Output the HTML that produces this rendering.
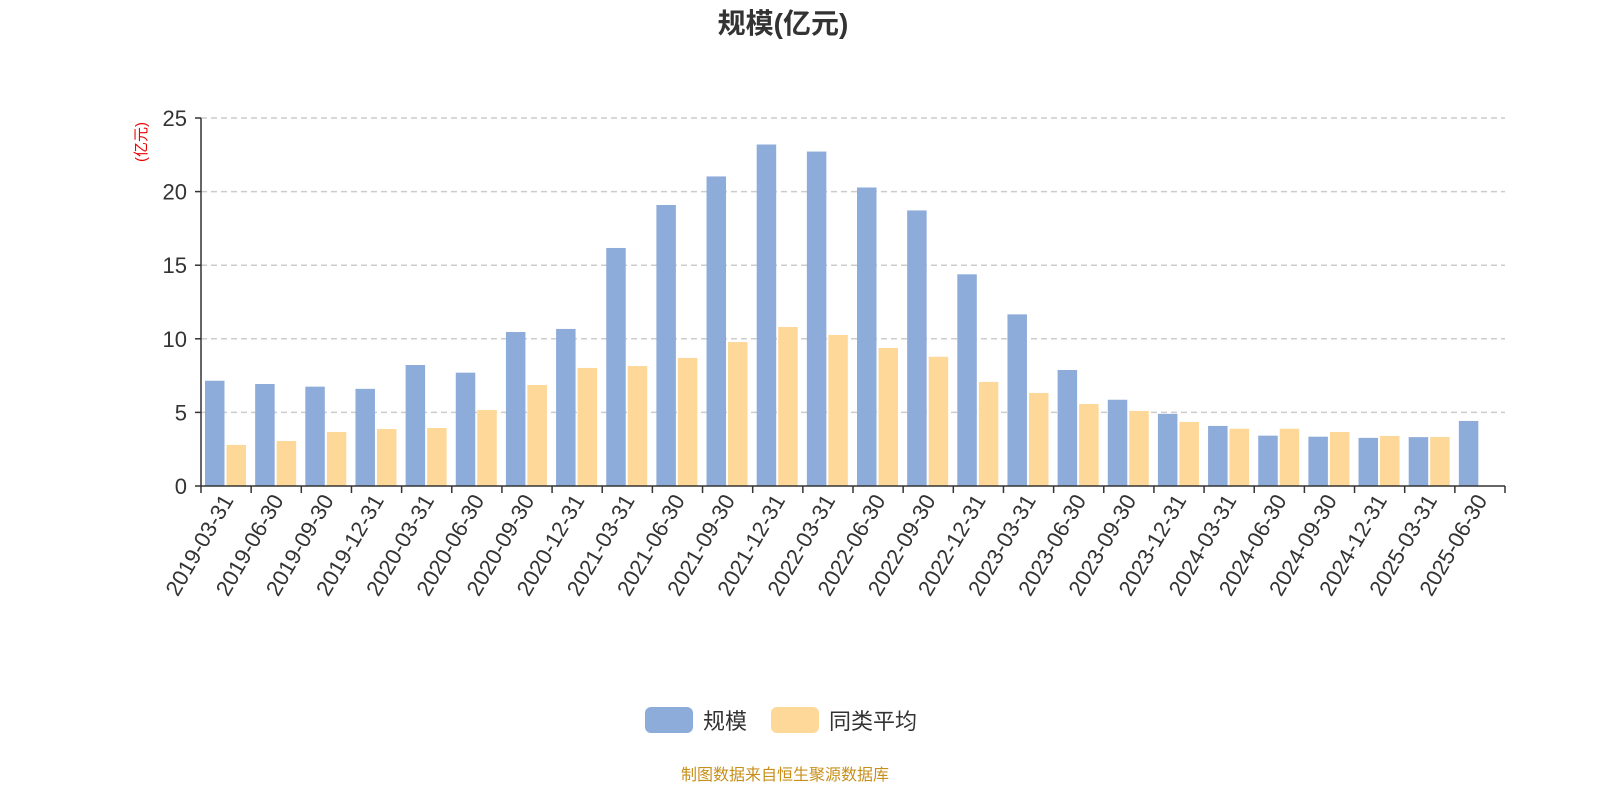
<!DOCTYPE html>
<html><head><meta charset="utf-8"><style>
html,body{margin:0;padding:0;background:#fff;}
svg{display:block;font-family:"Liberation Sans","Noto Sans CJK SC",sans-serif;}
</style></head><body>
<svg id="chart" width="1600" height="800" viewBox="0 0 1600 800">
<text x="783" y="33" text-anchor="middle" font-size="28" font-weight="bold" fill="#333">规模(亿元)</text>
<text transform="translate(146,142) rotate(-90)" text-anchor="middle" font-size="15" fill="#e00">(亿元)</text>
<g id="grid"></g>
<g id="bars"></g>
<g id="axes"></g>
<g>
<g><rect x="645" y="707" width="48" height="26" rx="6" fill="#8eacda"/><text x="703" y="729" font-size="22" fill="#333">规模</text></g>
<g><rect x="771" y="707" width="48" height="26" rx="6" fill="#fed899"/><text x="829" y="729" font-size="22" fill="#333">同类平均</text></g>
</g>
<text x="785" y="780" text-anchor="middle" font-size="16" fill="#c8901a">制图数据来自恒生聚源数据库</text>
</svg>
<script>
const categories=["2019-03-31","2019-06-30","2019-09-30","2019-12-31","2020-03-31","2020-06-30","2020-09-30","2020-12-31","2021-03-31","2021-06-30","2021-09-30","2021-12-31","2022-03-31","2022-06-30","2022-09-30","2022-12-31","2023-03-31","2023-06-30","2023-09-30","2023-12-31","2024-03-31","2024-06-30","2024-09-30","2024-12-31","2025-03-31","2025-06-30"];
const sizeValues=[7.15,6.93,6.75,6.6,8.22,7.7,10.46,10.67,16.17,19.09,21.03,23.2,22.72,20.28,18.72,14.38,11.66,7.88,5.86,4.9,4.08,3.42,3.35,3.27,3.32,4.42];
const peerValues=[2.79,3.06,3.67,3.87,3.94,5.16,6.86,8.02,8.15,8.7,9.78,10.8,10.26,9.38,8.78,7.07,6.32,5.57,5.1,4.35,3.89,3.89,3.67,3.4,3.33,null];
const yTicks=[0,5,10,15,20,25];
const NS="http://www.w3.org/2000/svg";
const X0=201,X1=1505,Y0=486,Y1=118,YMAX=25;
const band=(X1-X0)/categories.length;
const y=v=>Y0-(v/YMAX)*(Y0-Y1);
const xb=i=>X0+i*band;
function mk(tag,attrs,parent){const e=document.createElementNS(NS,tag);for(const k in attrs)e.setAttribute(k,attrs[k]);parent.appendChild(e);return e;}
const grid=document.getElementById('grid'),bars=document.getElementById('bars'),axes=document.getElementById('axes');
yTicks.forEach(t=>{
  if(t>0){const l=mk('line',{x1:X0,x2:X1,y1:y(t),y2:y(t),stroke:'#ccc','stroke-dasharray':'6,4','stroke-width':1.5},grid);
  
  }
  const tx=mk('text',{x:X0-14,y:y(t)+8,'text-anchor':'end','font-size':22,fill:'#333'},axes);
  tx.textContent=t;
  
  
  mk('line',{x1:X0-6,x2:X0,y1:y(t),y2:y(t),stroke:'#333','stroke-width':1.5},axes);
});
const bw=19.5;
categories.forEach((c,i)=>{
  const b=xb(i);
  const s=sizeValues[i];
  if(s!=null){const r=mk('rect',{x:b+4,y:y(s),width:bw,height:Y0-y(s),fill:'#8eacda'},bars);
  
  }
  const p=peerValues[i];
  if(p!=null){const r=mk('rect',{x:b+4+bw+2,y:y(p),width:bw,height:Y0-y(p),fill:'#fed899'},bars);
  
  }
  const tx=mk('text',{transform:`translate(${b+band/2+8},${Y0+14}) rotate(-60)`,'text-anchor':'end','font-size':22,fill:'#333'},axes);
  tx.textContent=c;
  
  
});
for(let i=0;i<=categories.length;i++){mk('line',{x1:xb(i),x2:xb(i),y1:Y0,y2:Y0+7,stroke:'#333','stroke-width':1.5},axes);}
const ya=mk('line',{x1:X0,x2:X0,y1:Y1,y2:Y0,stroke:'#333','stroke-width':1.5},axes);


const xa=mk('line',{x1:X0,x2:X1,y1:Y0,y2:Y0,stroke:'#333','stroke-width':1.5},axes);


</script>
</body></html>
